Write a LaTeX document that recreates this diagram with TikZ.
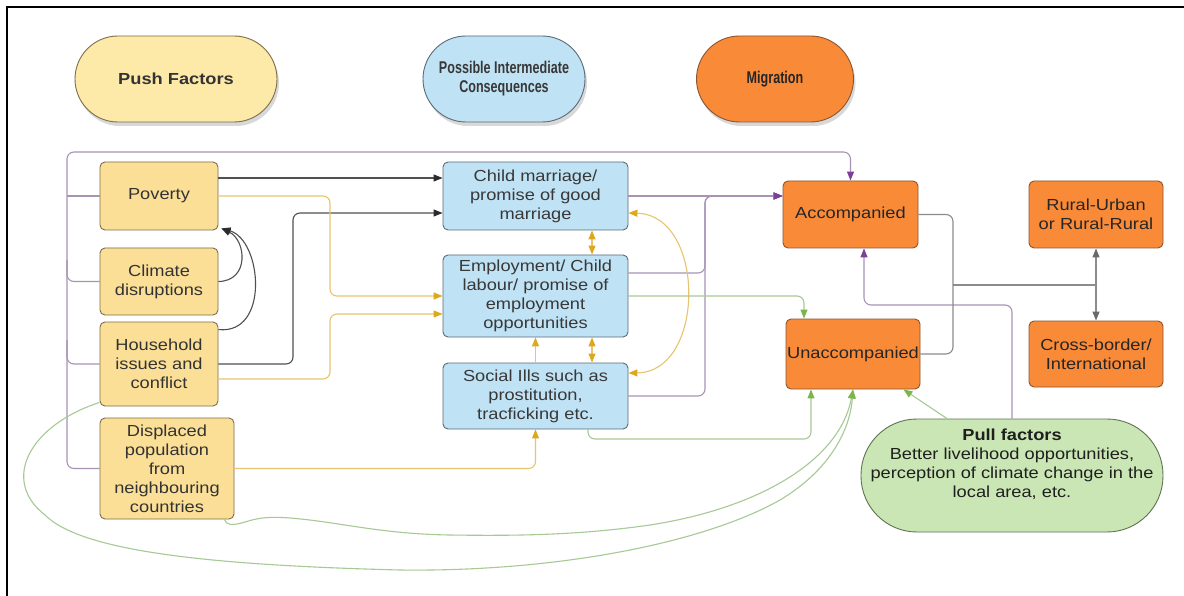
\documentclass[tikz,border=0pt]{standalone}
\usepackage{fontspec}
\setmainfont{Liberation Sans}[FakeStretch=1.14]
\newfontfamily\narrowf{Liberation Sans}[FakeStretch=0.74]
\usetikzlibrary{arrows.meta,shadows,calc}

\definecolor{yfill}{HTML}{FBDF97}
\definecolor{ypill}{HTML}{FDE9A8}
\definecolor{bfill}{HTML}{C0E2F5}
\definecolor{ofill}{HTML}{F98A38}
\definecolor{gfill}{HTML}{C9E6B4}
\definecolor{ydraw}{HTML}{7D6E4A}
\definecolor{bdraw}{HTML}{5B6B78}
\definecolor{odraw}{HTML}{8B5530}
\definecolor{gdraw}{HTML}{5E7352}
\definecolor{pline}{HTML}{A893B6}
\definecolor{phead}{HTML}{7E3F98}
\definecolor{yline}{HTML}{E8C46E}
\definecolor{yhead}{HTML}{DDA81C}
\definecolor{gline}{HTML}{A6C995}
\definecolor{ghead}{HTML}{7AB648}
\definecolor{kline}{HTML}{505050}
\definecolor{khead}{HTML}{2B2B2B}
\definecolor{grline}{HTML}{8C8C8C}
\definecolor{grhead}{HTML}{6A6A6A}

\tikzset{
  box/.style={rectangle, rounded corners=5pt, line width=0.9pt, align=center, inner sep=0pt},
  ybox/.style={box, fill=yfill, draw=ydraw, text=black!80},
  bbox/.style={box, fill=bfill, draw=bdraw, text=black!78},
  obox/.style={box, fill=ofill, draw=odraw, text=black!85},
  pill/.style={rectangle, line width=0.9pt, align=center, inner sep=0pt, minimum height=86,
     drop shadow={opacity=0.3, shadow xshift=2pt, shadow yshift=-4pt}},
  rc/.style={rounded corners=7pt},
  conlw/.style={line width=1.1pt},
  tipK/.tip={Triangle[length=9pt,width=7pt,color=khead]},
  tipY/.tip={Triangle[length=9pt,width=7pt,color=yhead]},
  tipP/.tip={Triangle[length=9pt,width=7pt,color=phead]},
  tipG/.tip={Triangle[length=9pt,width=7pt,color=ghead]},
  tipR/.tip={Triangle[length=9pt,width=7pt,color=grhead]},
  conK/.style={conlw, draw=kline, -tipK},
  conY/.style={conlw, draw=yline, -tipY},
  conYY/.style={conlw, draw=yline, tipY-tipY},
  conP/.style={conlw, draw=pline, -tipP},
  conPl/.style={conlw, draw=pline},
  conG/.style={conlw, draw=gline, -tipG},
  conR/.style={conlw, draw=grline},
  conRR/.style={conlw, draw=grline, tipR-tipR},
}

\begin{document}
\begin{tikzpicture}[x=1pt, y=-1pt, font=\fontsize{16}{19}\selectfont]
\useasboundingbox (0,0) rectangle (1184,596);
\fill[white] (0,0) rectangle (1184,596);

% frame
\draw[line width=2.5pt] (7,596) -- (7,7) -- (1184,7);

% headers
\node[pill, fill=ypill, draw=ydraw, minimum width=202, rounded corners=43pt, text=black!80] (pf) at (176,79) {\bfseries Push Factors};
\node[pill, fill=bfill, draw=bdraw, minimum width=162, rounded corners=43pt, text=black!78, font=\narrowf\bfseries\fontsize{17}{19}\selectfont] (pic) at (504,79) {Possible Intermediate\\Consequences};
\node[pill, fill=ofill, draw=odraw, minimum width=157, rounded corners=43pt, text=black!85, font=\narrowf\bfseries\fontsize{17}{19}\selectfont] (mig) at (775,79) {Migration};

% push factors
\node[ybox, minimum width=118, minimum height=68] (pov) at (159,196) {Poverty};
\node[ybox, minimum width=118, minimum height=67] (clim) at (159,281.5) {Climate\\disruptions};
\node[ybox, minimum width=118, minimum height=84] (hh) at (159,364) {Household\\issues and\\conflict};
\node[ybox, minimum width=134, minimum height=101] (disp) at (167,468.5) {Displaced\\population\\from\\neighbouring\\countries};

% intermediate consequences
\node[bbox, minimum width=185, minimum height=68] (cm) at (535.5,196) {Child marriage/\\promise of good\\marriage};
\node[bbox, minimum width=185, minimum height=82] (emp) at (535.5,296) {Employment/ Child\\labour/ promise of\\employment\\opportunities};
\node[bbox, minimum width=185, minimum height=66] (soc) at (535.5,396) {Social Ills such as\\prostitution,\\tracficking etc.};

% migration
\node[obox, minimum width=135, minimum height=67] (acc) at (850.5,214.5) {Accompanied};
\node[obox, minimum width=134, minimum height=70] (unacc) at (853,354) {Unaccompanied};
\node[obox, minimum width=134, minimum height=67] (ru) at (1096,214.5) {Rural-Urban\\or Rural-Rural};
\node[obox, minimum width=134, minimum height=66] (cb) at (1096,354) {Cross-border/\\International};

% pull factors
\node[rectangle, rounded corners=56pt, fill=gfill, draw=gdraw, line width=0.9pt, minimum width=302, minimum height=113] (pull) at (1012,475.5) {};
\node[align=center, text=black!88, inner sep=0pt] (pulltext) at (1012,464) {\textbf{Pull factors}\\Better livelihood opportunities,\\perception of climate change in the\\local area, etc.};

% ---- purple connectors
\draw[conP, rc] (disp.west) -- (67,468.5) -- (67,152) -- (850.5,152) -- (acc.north);
\draw[conPl] (pov.west) -- (67,196);
\draw[conPl, rc] (clim.west) -- (67,281.5) -- (67,260);
\draw[conPl, rc] (hh.west) -- (67,364) -- (67,340);
\draw[conP] (cm.east) -- ([yshift=18.5]acc.west);
\draw[conP, rc] ([yshift=23]emp.east) -- (705,273) -- (705,196) -- ([yshift=18.5]acc.west);
\draw[conP, rc] (soc.east) -- (705,396) -- (705,196) -- ([yshift=18.5]acc.west);
\draw[conP, rc] (pull.north) -- (1012,305) -- (864,305) -- ([xshift=13.5]acc.south);

% ---- black connectors
\draw[conK] ([yshift=18]pov.east) -- ([yshift=18]cm.west);
\draw[conK, rc] (hh.east) -- (293,364) -- (293,213) -- ([yshift=-17]cm.west);
\draw[conK] ([yshift=-8]hh.north east) .. controls (270,335) and (262,240) .. ([xshift=3,yshift=2]pov.south east);
\draw[conK] (clim.east) .. controls (250,281) and (246,240) .. ([xshift=3,yshift=2]pov.south east);

% ---- yellow connectors
\draw[conY, rc] (pov.east) -- (330,196) -- (330,296) -- (emp.west);
\draw[conY, rc] ([yshift=-15]hh.east) -- (330,379) -- (330,314) -- ([yshift=-18]emp.west);
\draw[conY, rc] (disp.east) -| (soc.south);
\draw[conY] (soc.north) -- (emp.south);
\draw[conYY] ([xshift=56.5]cm.south) -- ([xshift=56.5]emp.north);
\draw[conYY] ([xshift=56.5]emp.south) -- ([xshift=56.5]soc.north);
\draw[conYY] ([yshift=-17]cm.east) .. controls (706,215) and (706,372) .. ([yshift=23]soc.east);

% ---- gray connectors
\draw[conR, rc] (acc.east) -- (953,214.5) -- (953,354) -- (unacc.east);
\coordinate (gj) at (953,285);
\draw[conR] (gj) -- (gj -| ru.south);
\draw[conRR] (ru.south) -- (cb.north);

% ---- green connectors
\draw[conG, rc] (emp.east) -- (804,296) -- ([xshift=-49]unacc.north);
\draw[conG, rc] ([xshift=52.5]soc.south) -- (588,439) -- (811,439) -- ([xshift=-42]unacc.south);
\draw[conG] ([xshift=-65]pull.north) -- ([xshift=-17]unacc.south east);
\draw[conG] ([xshift=-10]disp.south east) .. controls (226,525) and (232,526) .. (245,522)
   .. controls (255,519) and (265,516) .. (290,518)
   .. controls (340,522) and (380,534) .. (450,535)
   .. controls (520,536) and (580,535) .. (650,525)
   .. controls (760,508) and (840,460) .. (unacc.south);
\draw[conG] ([yshift=4]hh.south west) .. controls (30,425) and (0,480) .. (45,515)
   .. controls (80,550) and (200,565) .. (400,570)
   .. controls (550,572) and (700,545) .. (780,500)
   .. controls (830,470) and (850,430) .. (unacc.south);
\end{tikzpicture}
\end{document}
